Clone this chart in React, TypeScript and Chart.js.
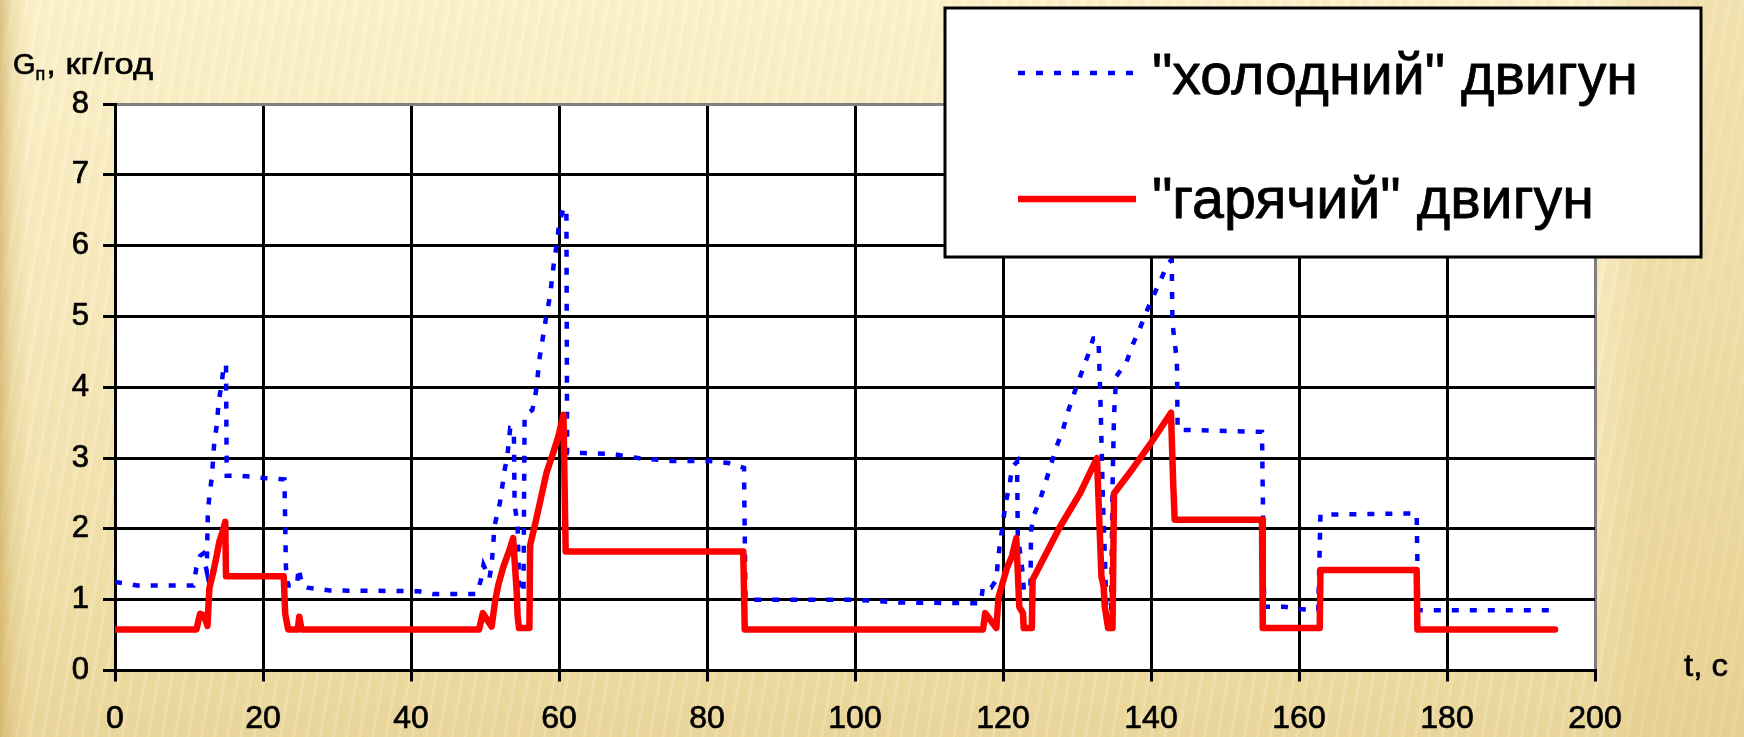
import React, { useEffect, useRef } from "react";
import { Chart, registerables } from "chart.js";

Chart.register(...registerables);

// ---- data (time, s  /  fuel flow, kg/h) ----
const coldTime = [0, 2, 3, 10.6, 11.0, 11.5, 11.9, 12.4, 12.55, 12.8, 13.1, 13.4, 13.8, 14.0, 14.4, 14.7, 15.0, 15.1, 17, 20, 22.9, 23.1, 23.4, 24.6, 24.8, 25.3, 26, 29, 41, 43, 48.9, 49.5, 49.8, 50.6, 50.9, 51.3, 52.0, 52.7, 53.0, 53.4, 53.9, 54.0, 54.4, 54.6, 55.2, 55.35, 56.4, 56.9, 57.4, 58.2, 58.8, 59.3, 59.75, 60.0, 60.6, 61.0, 61.1, 63.3, 67, 70.7, 75.2, 80.2, 82.9, 85.0, 85.2, 100, 106, 117.0, 117.3, 118.4, 119.1, 119.3, 119.6, 120.0, 120.3, 120.9, 121.2, 121.9, 122.0, 122.7, 122.8, 123.7, 123.8, 124.2, 125.0, 125.7, 126.4, 127.2, 128.1, 128.8, 129.7, 130.6, 131.5, 132.2, 132.9, 133.2, 133.5, 133.8, 134.0, 134.6, 134.8, 135.0, 135.3, 136.7, 137.6, 138.5, 139.4, 140.2, 141.2, 142.3, 142.8, 142.9, 143.5, 143.6, 155.0, 155.3, 158, 160, 162.6, 162.9, 175.9, 176.1, 194.5];
const coldFlow = [1.25, 1.22, 1.2, 1.2, 1.45, 1.62, 1.65, 1.4, 2.25, 2.5, 2.74, 3.2, 3.5, 3.8, 4.03, 4.32, 4.32, 2.75, 2.75, 2.72, 2.7, 1.45, 1.2, 1.2, 1.45, 1.2, 1.17, 1.13, 1.12, 1.08, 1.08, 1.3, 1.49, 1.3, 1.5, 2.05, 2.36, 2.86, 3.0, 3.42, 3.4, 2.35, 2.05, 1.25, 1.09, 3.6, 3.68, 3.95, 4.43, 4.95, 5.3, 5.75, 6.06, 6.3, 6.53, 6.53, 3.07, 3.07, 3.06, 3.0, 2.96, 2.96, 2.93, 2.86, 1.0, 1.0, 0.96, 0.95, 1.19, 1.17, 1.28, 1.54, 1.8, 2.08, 2.34, 2.62, 2.86, 2.95, 1.91, 1.35, 1.14, 1.14, 1.98, 2.2, 2.41, 2.64, 2.88, 3.15, 3.4, 3.66, 3.94, 4.2, 4.46, 4.69, 4.69, 3.7, 2.4, 1.5, 0.75, 0.7, 2.6, 3.6, 4.15, 4.36, 4.62, 4.83, 5.07, 5.26, 5.49, 5.75, 5.8, 4.9, 4.38, 3.4, 3.37, 0.9, 0.9, 0.87, 0.85, 2.2, 2.22, 0.85, 0.85];

const hotTime = [0, 11.0, 11.5, 12.0, 12.5, 12.75, 13.3, 13.7, 14.1, 14.5, 14.9, 15.0, 22.8, 23.0, 23.4, 24.7, 24.9, 25.2, 49.2, 49.7, 50.9, 51.35, 51.8, 52.5, 53.3, 53.8, 54.3, 54.4, 54.6, 56.0, 56.1, 56.8, 57.4, 58.3, 59.2, 59.9, 60.6, 60.9, 84.9, 85.1, 117.3, 117.6, 119.1, 119.4, 119.8, 120.5, 121.2, 121.8, 122.2, 122.7, 122.8, 123.9, 124.0, 127.7, 130.4, 132.7, 133.3, 133.6, 133.75, 134.2, 134.8, 135.0, 137.6, 140.1, 142.7, 143.0, 143.2, 155.0, 155.1, 162.8, 162.9, 175.9, 176.0, 194.6];
const hotFlow = [0.58, 0.58, 0.8, 0.78, 0.63, 1.16, 1.4, 1.6, 1.82, 1.95, 2.1, 1.33, 1.33, 0.8, 0.58, 0.58, 0.76, 0.58, 0.58, 0.81, 0.62, 0.97, 1.21, 1.47, 1.7, 1.87, 1.09, 0.78, 0.6, 0.6, 1.77, 2.08, 2.36, 2.79, 3.07, 3.3, 3.61, 1.68, 1.68, 0.58, 0.58, 0.81, 0.6, 1.04, 1.18, 1.44, 1.61, 1.87, 0.9, 0.81, 0.6, 0.6, 1.28, 2.03, 2.5, 3.0, 1.33, 1.18, 0.9, 0.6, 0.6, 2.5, 2.86, 3.23, 3.64, 2.64, 2.13, 2.13, 0.6, 0.6, 1.42, 1.42, 0.58, 0.58];

const xTickValues = [0, 20, 40, 60, 80, 100, 120, 140, 160, 180, 200];
const yTickValues = [0, 1, 2, 3, 4, 5, 6, 7, 8];
const seriesNames = ['"холодний" двигун', '"гарячий" двигун'];
const yTitleParts = ["G", "п", ", кг/год"];
const xTitle = "t, c";

const FONT = '"Liberation Sans", Arial, sans-serif';

function fitText(ctx: CanvasRenderingContext2D, text: string, x: number, baseline: number, size: number, width?: number, stroke = 0) {
  ctx.font = `${size}px ${FONT}`;
  const w = ctx.measureText(text).width;
  ctx.save();
  ctx.translate(x, baseline);
  if (width) ctx.scale(width / w, 1);
  ctx.textAlign = "left";
  ctx.textBaseline = "alphabetic";
  ctx.fillText(text, 0, 0);
  if (stroke > 0) {
    ctx.lineWidth = stroke;
    ctx.strokeStyle = ctx.fillStyle as string;
    ctx.lineJoin = "round";
    ctx.strokeText(text, 0, 0);
  }
  ctx.restore();
  return width ?? w;
}

const decor = {
  id: "decor",
  beforeDraw(chart: any) {
    const { ctx, chartArea: a } = chart;
    ctx.save();
    ctx.fillStyle = "#ffffff";
    ctx.fillRect(a.left, a.top, a.right - a.left, a.bottom - a.top);
    ctx.restore();
  },
  afterDraw(chart: any) {
    const ctx: CanvasRenderingContext2D = chart.ctx;
    ctx.save();
    ctx.fillStyle = "#000";
    // y axis title
    let x = 13;
    x += fitText(ctx, yTitleParts[0], x, 74, 29, undefined, 0.6);
    x += fitText(ctx, yTitleParts[1], x, 80, 18, undefined, 0.5);
    fitText(ctx, yTitleParts[2], x + 1, 74, 29, 153 - x - 1, 0.6);
    // x axis title
    fitText(ctx, xTitle, 1684, 676, 32, 44, 0.6);

    // legend box
    ctx.fillStyle = "#fff";
    ctx.fillRect(945, 8, 756, 249);
    ctx.lineWidth = 3;
    ctx.strokeStyle = "#000";
    ctx.strokeRect(945, 8, 756, 249);

    // samples
    ctx.lineWidth = 4.5;
    ctx.strokeStyle = "#0000FF";
    ctx.setLineDash([7, 11]);
    ctx.lineCap = "butt";
    ctx.beginPath();
    ctx.moveTo(1018, 73);
    ctx.lineTo(1138, 73);
    ctx.stroke();
    ctx.setLineDash([]);
    ctx.lineWidth = 6.5;
    ctx.strokeStyle = "#FF0000";
    ctx.beginPath();
    ctx.moveTo(1018, 199);
    ctx.lineTo(1136, 199);
    ctx.stroke();

    ctx.fillStyle = "#000";
    fitText(ctx, seriesNames[0], 1152, 94, 58, 486, 0.8);
    fitText(ctx, seriesNames[1], 1152, 218, 58, 442, 0.8);
    ctx.restore();
  },
};

export default function App() {
  const ref = useRef<HTMLCanvasElement>(null);
  useEffect(() => {
    const cold = coldTime.map((t, i) => ({ x: t, y: coldFlow[i] }));
    const hot = hotTime.map((t, i) => ({ x: t, y: hotFlow[i] }));
    const chart = new Chart(ref.current as HTMLCanvasElement, {
      type: "line",
      data: {
        datasets: [
          {
            label: seriesNames[0],
            data: cold,
            borderColor: "#0000FF",
            borderWidth: 4.5,
            borderDash: [7, 11],
            borderCapStyle: "butt",
            borderJoinStyle: "miter",
            pointRadius: 0,
            tension: 0,
            fill: false,
            order: 2,
          },
          {
            label: seriesNames[1],
            data: hot,
            borderColor: "#FF0000",
            borderWidth: 6.5,
            borderCapStyle: "round",
            borderJoinStyle: "round",
            pointRadius: 0,
            tension: 0,
            fill: false,
            order: 1,
          },
        ],
      },
      options: {
        responsive: false,
        animation: false,
        devicePixelRatio: 1,
        parsing: false as any,
        normalized: true,
        layout: { padding: { left: 0, top: 104, right: 149, bottom: 0 } },
        plugins: { legend: { display: false }, title: { display: false }, tooltip: { enabled: false } },
        scales: {
          x: {
            type: "linear",
            min: 0,
            max: 200,
            afterBuildTicks: (s: any) => {
              s.ticks = xTickValues.map((v) => ({ value: v }));
            },
            afterFit: (s: any) => {
              s.height = 66.5;
            },
            grid: {
              color: (c: any) => (c.tick && c.tick.value === 200 ? "#808080" : "#000000"),
              lineWidth: 3,
              tickLength: 11,
              tickColor: "#000000",
              tickWidth: 3,
            },
            border: { display: true, color: "#000000", width: 3 },
            ticks: {
              color: "#000",
              font: { family: FONT, size: 32 },
              padding: 18,
              maxRotation: 0,
              autoSkip: false,
              textStrokeColor: "#000",
              textStrokeWidth: 0.7,
            },
          },
          y: {
            type: "linear",
            min: 0,
            max: 8,
            afterBuildTicks: (s: any) => {
              s.ticks = yTickValues.map((v) => ({ value: v }));
            },
            afterFit: (s: any) => {
              s.width = 115;
            },
            grid: {
              color: (c: any) => (c.tick && c.tick.value === 8 ? "#808080" : "#000000"),
              lineWidth: 3,
              tickLength: 12,
              tickColor: "#000000",
              tickWidth: 3,
            },
            border: { display: true, color: "#000000", width: 3 },
            ticks: {
              color: "#000",
              font: { family: FONT, size: 31 },
              padding: 14,
              autoSkip: false,
              textStrokeColor: "#000",
              textStrokeWidth: 0.7,
            },
          },
        },
      },
      plugins: [decor],
    } as any);
    return () => chart.destroy();
  }, []);

  const bg = [
    "linear-gradient(90deg, rgba(200,165,85,0.6) 0px, rgba(200,165,85,0.2) 12px, rgba(200,165,85,0) 28px)",
    "linear-gradient(90deg, rgba(225,200,130,0) 1600px, rgba(225,200,130,0.35) 1640px)",
    "repeating-linear-gradient(100deg, rgba(255,255,255,0.14) 0px, rgba(255,255,255,0.14) 2px, rgba(200,160,70,0.05) 3px, rgba(200,160,70,0.05) 9px, rgba(255,255,255,0) 13px)",
    "linear-gradient(180deg, #FCF2CC 0%, #F8EBC0 40%, #F1E0AA 80%, #EBD89D 100%)",
  ].join(",");

  return (
    <div style={{ position: "absolute", left: 0, top: 0, width: 1744, height: 737, overflow: "hidden", background: bg }}>
      <canvas ref={ref} width={1744} height={737} style={{ display: "block" }} />
    </div>
  );
}
